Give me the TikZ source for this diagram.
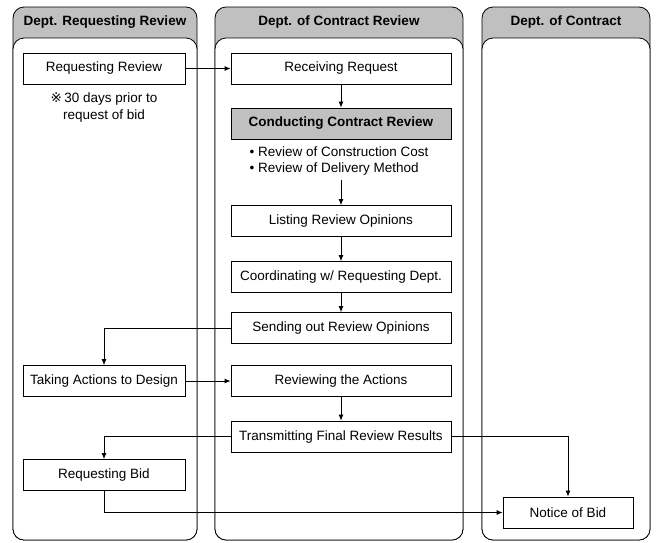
\documentclass[tikz,border=0pt]{standalone}
\usepackage{fontspec}
\setmainfont{Liberation Sans}
\newfontfamily\marksymfont{DejaVu Sans}
\usepackage{tikz}
\usetikzlibrary{positioning, arrows.meta}
\definecolor{lanegray}{RGB}{192,192,192}

\begin{document}
\begin{tikzpicture}[x=1pt,y=-1pt,>={Latex[length=6pt,width=5pt]},line width=0.8pt,
    font=\fontsize{13.5}{16.5}\selectfont,
    lane/.style={draw,rounded corners=11pt},
    lanehead/.style={font=\fontsize{13.5}{16.5}\selectfont\bfseries},
    task/.style={draw,fill=white,minimum height=31pt,inner sep=0pt},
    lefttask/.style={task,minimum width=162pt},
    midtask/.style={task,minimum width=220pt}]
      \useasboundingbox (0,0) rectangle (656,542);

      \draw[lane,fill=lanegray] (13,7) rectangle (197,540);
      \draw[lane,fill=white] (13,38) rectangle (197,540);
      \draw[lane,fill=lanegray] (215,7) rectangle (463,540);
      \draw[lane,fill=white] (215,38) rectangle (463,540);
      \draw[lane,fill=lanegray] (482,7) rectangle (650,540);
      \draw[lane,fill=white] (482,38) rectangle (650,540);
      \node[lanehead] (hreq) at (105,22.5) {Dept. Requesting Review};
      \node[lanehead] (hrev) at (339,22.5) {Dept. of Contract Review};
      \node[lanehead] (hcon) at (566,22.5) {Dept. of Contract};

      \node[lefttask] (reqrev) at (104,68.5) {Requesting Review};
      \node[align=center,inner sep=0pt] (note) [below=8pt of reqrev] {{\marksymfont ※}\,30 days prior to\\request of bid};
      \node[lefttask] (taking) at (104,381) {Taking Actions to Design};
      \node[lefttask] (reqbid) at (104,475) {Requesting Bid};

      \node[midtask] (recv) at (341,68.5) {Receiving Request};
      \node[midtask,fill=lanegray,font=\fontsize{13.5}{16.5}\selectfont\bfseries] (conduct) at (341,123.5) {Conducting Contract Review};
      \node[align=left,inner sep=0pt] (bullets) at (339,161) {\textbullet\ Review of Construction Cost\\\textbullet\ Review of Delivery Method};
      \node[midtask] (list) at (341,221) {Listing Review Opinions};
      \node[midtask] (coord) at (341,277) {Coordinating w/ Requesting Dept.};
      \node[midtask] (send) at (341,328) {Sending out Review Opinions};
      \node[midtask] (reviewing) at (341,381) {Reviewing the Actions};
      \node[midtask] (transmit) at (341,436.5) {Transmitting Final Review Results};

      \node[task,minimum width=130pt] (notice) at (568,512.5) {Notice of Bid};

      \draw[->] (reqrev) -- (recv);
      \draw[->] (recv) -- (conduct);
      \draw[->] (bullets.south -| list.north) ++(0,4) -- (list);
      \draw[->] (list) -- (coord);
      \draw[->] (coord) -- (send);
      \draw[->] (send.west) -| (taking.north);
      \draw[->] (taking) -- (reviewing);
      \draw[->] (reviewing) -- (transmit);
      \draw[->] (transmit.west) -| (reqbid.north);
      \draw[->] (transmit.east) -| (notice.north);
      \draw[->] (reqbid.south) |- (notice.west);
    \end{tikzpicture}
\end{document}
